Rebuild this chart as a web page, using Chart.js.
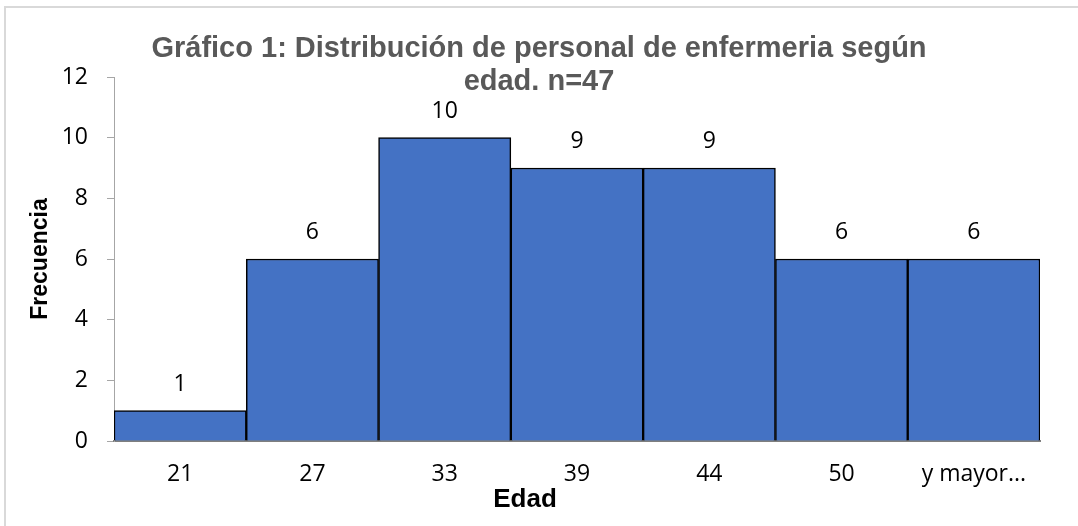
<!DOCTYPE html>
<html>
<head>
<meta charset="utf-8">
<script src="https://cdn.jsdelivr.net/npm/chart.js@4/dist/chart.umd.min.js"></script>
<style>
  html, body { margin: 0; padding: 0; background: #fff; }
  #wrap { width: 1078px; height: 526px; position: relative; }
</style>
</head>
<body>
<div id="wrap"><canvas id="chart"></canvas></div>
<script>
const categories = ['21', '27', '33', '39', '44', '50', 'y mayor...']
const frecuencia = [1, 6, 10, 9, 9, 6, 6]
const yTicks = [0, 2, 4, 6, 8, 10, 12]
const titleLines = ['Gráfico 1: Distribución de personal de enfermeria según', 'edad. n=47']
const xTitle = 'Edad'
const yTitle = 'Frecuencia'

const tickFont = { family: '"Open Sans", "Noto Sans", sans-serif', size: 23 }

// titles, frame and value labels drawn by hand
const decor = {
  id: 'decor',
  beforeDraw(chart) {
    const ctx = chart.ctx
    ctx.save()
    ctx.strokeStyle = '#d9d9d9'
    ctx.lineWidth = 2
    ctx.beginPath()
    ctx.moveTo(5, 526)
    ctx.lineTo(5, 7)
    ctx.lineTo(1078, 7)
    ctx.stroke()
    ctx.restore()
  },
  afterDatasetsDraw(chart) {
    const ctx = chart.ctx
    const area = chart.chartArea
    ctx.save()
    // value labels
    ctx.fillStyle = '#000'
    ctx.font = '23px "Open Sans", "Noto Sans", sans-serif'
    ctx.textAlign = 'center'
    ctx.textBaseline = 'alphabetic'
    chart.getDatasetMeta(0).data.forEach((bar, i) => {
      ctx.fillText(String(frecuencia[i]), bar.x, bar.y - 20)
    })
    // title
    ctx.fillStyle = '#595959'
    ctx.font = 'bold 29px "Liberation Sans", Arial, sans-serif'
    titleLines.forEach((t, i) => ctx.fillText(t, chart.width / 2, 57 + i * 33))
    // axis titles
    ctx.fillStyle = '#000'
    ctx.font = 'bold 26px "Liberation Sans", Arial, sans-serif'
    ctx.fillText(xTitle, (area.left + area.right) / 2 - 52, 507)
    ctx.font = 'bold 23px "Liberation Sans", Arial, sans-serif'
    ctx.textBaseline = 'middle'
    ctx.translate(41, (area.top + area.bottom) / 2)
    ctx.rotate(-Math.PI / 2)
    ctx.fillText(yTitle, 0, 0)
    ctx.restore()
  }
}

new Chart(document.getElementById('chart'), {
  type: 'bar',
  data: {
    labels: categories,
    datasets: [{
      label: yTitle,
      data: frecuencia,
      backgroundColor: '#4472c4',
      borderColor: '#000000',
      borderWidth: 1.5,
      barPercentage: 1,
      categoryPercentage: 1,
    }]
  },
  options: {
    responsive: true,
    maintainAspectRatio: false,
    animation: false,
    layout: { padding: { top: 77, right: 38, left: 0, bottom: 0 } },
    plugins: {
      legend: { display: false },
      title: { display: false },
      tooltip: { enabled: false },
    },
    scales: {
      x: {
        grid: { display: false, drawTicks: false },
        border: { color: '#7f7f7f', width: 2 },
        ticks: { font: tickFont, color: '#000', padding: 20, maxRotation: 0 },
        afterFit: (s) => { s.height = 85 },
      },
      y: {
        min: 0,
        max: 12,
        afterBuildTicks: (s) => { s.ticks = yTicks.map(v => ({ value: v })) },
        grid: { drawOnChartArea: false, drawTicks: true, tickLength: 7, color: '#a6a6a6' },
        border: { color: '#a6a6a6', width: 1 },
        ticks: { font: tickFont, color: '#000', padding: 19 },
        afterFit: (s) => { s.width = 114 },
      }
    }
  },
  plugins: [decor]
})
</script>
</body>
</html>
